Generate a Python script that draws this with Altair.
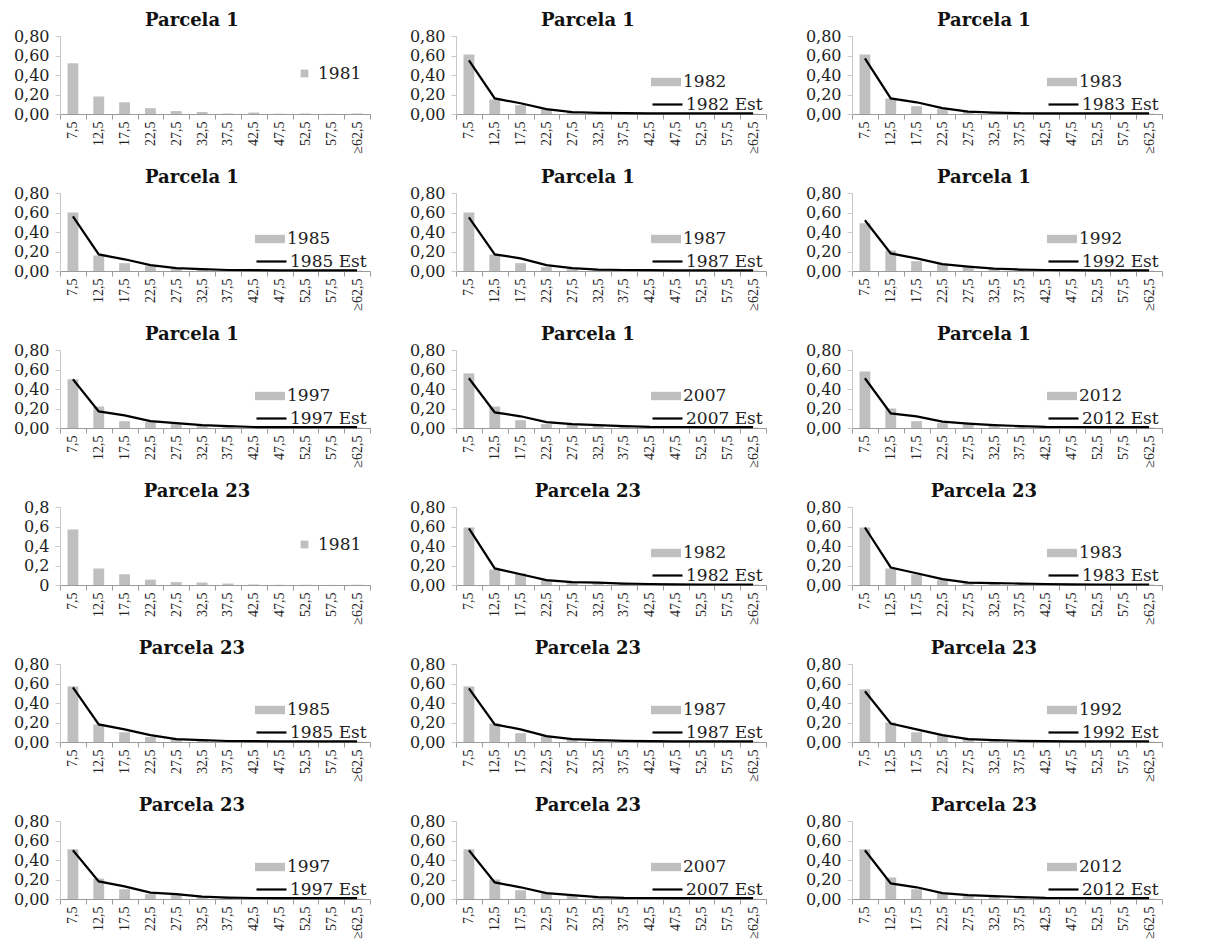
import altair as alt
import pandas as pd

classes = ["7,5", "12,5", "17,5", "22,5", "27,5", "32,5", "37,5", "42,5", "47,5", "52,5", "57,5", "≥62,5"]

# Parcela 1
p1_1981_obs = [0.52, 0.18, 0.12, 0.06, 0.03, 0.02, 0.005, 0.015, 0.003, 0.005, 0.002, 0.005]
p1_1982_obs = [0.61, 0.15, 0.09, 0.05, 0.02, 0.012, 0.008, 0.006, 0.004, 0.004, 0.003, 0.004]
p1_1982_est = [0.55, 0.16, 0.11, 0.05, 0.02, 0.012, 0.008, 0.007, 0.006, 0.006, 0.006, 0.006]
p1_1983_obs = [0.61, 0.16, 0.08, 0.05, 0.02, 0.01, 0.006, 0.005, 0.004, 0.003, 0.003, 0.004]
p1_1983_est = [0.57, 0.16, 0.12, 0.06, 0.025, 0.015, 0.008, 0.007, 0.006, 0.006, 0.006, 0.006]
p1_1985_obs = [0.60, 0.16, 0.08, 0.05, 0.03, 0.02, 0.01, 0.006, 0.004, 0.004, 0.003, 0.004]
p1_1985_est = [0.56, 0.17, 0.12, 0.06, 0.03, 0.02, 0.01, 0.008, 0.007, 0.007, 0.007, 0.007]
p1_1987_obs = [0.60, 0.17, 0.08, 0.04, 0.02, 0.01, 0.006, 0.005, 0.004, 0.003, 0.003, 0.004]
p1_1987_est = [0.55, 0.17, 0.13, 0.06, 0.03, 0.015, 0.01, 0.008, 0.007, 0.007, 0.007, 0.007]
p1_1992_obs = [0.49, 0.21, 0.10, 0.07, 0.05, 0.03, 0.02, 0.01, 0.006, 0.005, 0.004, 0.004]
p1_1992_est = [0.52, 0.18, 0.13, 0.07, 0.045, 0.025, 0.015, 0.01, 0.008, 0.007, 0.007, 0.007]
p1_1997_obs = [0.50, 0.22, 0.07, 0.06, 0.05, 0.03, 0.02, 0.01, 0.006, 0.005, 0.004, 0.004]
p1_1997_est = [0.50, 0.17, 0.13, 0.07, 0.05, 0.03, 0.02, 0.01, 0.008, 0.008, 0.008, 0.008]
p1_2007_obs = [0.56, 0.22, 0.08, 0.04, 0.04, 0.02, 0.01, 0.008, 0.005, 0.004, 0.003, 0.004]
p1_2007_est = [0.51, 0.16, 0.12, 0.06, 0.04, 0.03, 0.02, 0.012, 0.01, 0.009, 0.009, 0.009]
p1_2012_obs = [0.58, 0.20, 0.07, 0.05, 0.04, 0.02, 0.01, 0.008, 0.005, 0.004, 0.003, 0.004]
p1_2012_est = [0.51, 0.15, 0.12, 0.065, 0.045, 0.03, 0.02, 0.012, 0.01, 0.009, 0.009, 0.009]

# Parcela 23
p23_1981_obs = [0.57, 0.17, 0.11, 0.055, 0.03, 0.025, 0.015, 0.005, 0.002, 0.002, 0.001, 0.003]
p23_1982_obs = [0.59, 0.16, 0.12, 0.05, 0.025, 0.02, 0.015, 0.01, 0.005, 0.004, 0.003, 0.004]
p23_1982_est = [0.58, 0.17, 0.11, 0.05, 0.03, 0.025, 0.015, 0.01, 0.006, 0.005, 0.005, 0.005]
p23_1983_obs = [0.59, 0.17, 0.11, 0.05, 0.025, 0.02, 0.015, 0.01, 0.005, 0.004, 0.003, 0.004]
p23_1983_est = [0.59, 0.18, 0.12, 0.06, 0.025, 0.02, 0.015, 0.01, 0.006, 0.005, 0.005, 0.005]
p23_1985_obs = [0.57, 0.18, 0.10, 0.05, 0.03, 0.02, 0.01, 0.006, 0.004, 0.004, 0.003, 0.004]
p23_1985_est = [0.56, 0.18, 0.13, 0.07, 0.03, 0.02, 0.01, 0.008, 0.006, 0.006, 0.006, 0.006]
p23_1987_obs = [0.57, 0.19, 0.09, 0.06, 0.04, 0.02, 0.01, 0.006, 0.004, 0.004, 0.003, 0.004]
p23_1987_est = [0.55, 0.18, 0.13, 0.06, 0.03, 0.02, 0.012, 0.008, 0.007, 0.007, 0.007, 0.007]
p23_1992_obs = [0.54, 0.20, 0.10, 0.07, 0.04, 0.02, 0.01, 0.008, 0.005, 0.004, 0.003, 0.004]
p23_1992_est = [0.52, 0.19, 0.13, 0.07, 0.03, 0.02, 0.012, 0.009, 0.007, 0.007, 0.007, 0.007]
p23_1997_obs = [0.51, 0.21, 0.10, 0.05, 0.05, 0.02, 0.01, 0.008, 0.005, 0.004, 0.003, 0.004]
p23_1997_est = [0.50, 0.18, 0.13, 0.065, 0.05, 0.025, 0.015, 0.01, 0.01, 0.008, 0.008, 0.008]
p23_2007_obs = [0.51, 0.20, 0.09, 0.06, 0.04, 0.02, 0.01, 0.008, 0.005, 0.004, 0.003, 0.004]
p23_2007_est = [0.50, 0.17, 0.12, 0.06, 0.04, 0.02, 0.012, 0.01, 0.008, 0.008, 0.008, 0.008]
p23_2012_obs = [0.51, 0.22, 0.10, 0.06, 0.04, 0.03, 0.02, 0.01, 0.006, 0.005, 0.004, 0.004]
p23_2012_est = [0.50, 0.16, 0.12, 0.06, 0.04, 0.03, 0.02, 0.012, 0.01, 0.009, 0.009, 0.009]

panels_spec = [
    ("Parcela 1", "1981", p1_1981_obs, None),
    ("Parcela 1", "1982", p1_1982_obs, p1_1982_est),
    ("Parcela 1", "1983", p1_1983_obs, p1_1983_est),
    ("Parcela 1", "1985", p1_1985_obs, p1_1985_est),
    ("Parcela 1", "1987", p1_1987_obs, p1_1987_est),
    ("Parcela 1", "1992", p1_1992_obs, p1_1992_est),
    ("Parcela 1", "1997", p1_1997_obs, p1_1997_est),
    ("Parcela 1", "2007", p1_2007_obs, p1_2007_est),
    ("Parcela 1", "2012", p1_2012_obs, p1_2012_est),
    ("Parcela 23", "1981", p23_1981_obs, None),
    ("Parcela 23", "1982", p23_1982_obs, p23_1982_est),
    ("Parcela 23", "1983", p23_1983_obs, p23_1983_est),
    ("Parcela 23", "1985", p23_1985_obs, p23_1985_est),
    ("Parcela 23", "1987", p23_1987_obs, p23_1987_est),
    ("Parcela 23", "1992", p23_1992_obs, p23_1992_est),
    ("Parcela 23", "1997", p23_1997_obs, p23_1997_est),
    ("Parcela 23", "2007", p23_2007_obs, p23_2007_est),
    ("Parcela 23", "2012", p23_2012_obs, p23_2012_est),
]

W, H = 310, 78
SERIF = "DejaVu Serif"
TXT = "#222222"
BAR = "#BFBFBF"


def panel(title, year, obs, est, short_fmt):
    df = pd.DataFrame({
        "cls": classes,
        "obs": obs,
        "obs_lab": [year] * len(classes),
        "est": est if est is not None else [0.0] * len(classes),
        "est_lab": [year + " Est"] * len(classes),
    })
    if short_fmt:
        lexpr = "datum.value == 0 ? '0' : replace(format(datum.value, '.1f'), '.', ',')"
    else:
        lexpr = "replace(format(datum.value, '.2f'), '.', ',')"
    x = alt.X("cls:N", sort=classes,
              scale=alt.Scale(paddingInner=0, paddingOuter=0),
              axis=alt.Axis(title=None, labelAngle=270, tickBand="extent",
                            labelFont="Liberation Serif", labelFontSize=14,
                            labelColor=TXT, domainColor="#9a9a9a",
                            tickColor="#9a9a9a", tickSize=5, labelPadding=2))
    yaxis = alt.Axis(title=None, values=[0, 0.2, 0.4, 0.6, 0.8],
                     labelExpr=lexpr, labelFont=SERIF, labelFontSize=16,
                     labelColor=TXT, domainColor="#c8c8c8",
                     tickColor="#c8c8c8", tickSize=5, labelPadding=6)
    yscale = alt.Scale(domain=[0, 0.8])
    base = alt.Chart(df)
    if est is None:
        fill_leg = alt.Legend(title=None, orient="none", legendX=236, legendY=29,
                              symbolType="square", symbolSize=60,
                              labelFont=SERIF, labelFontSize=17, labelColor=TXT,
                              padding=0, labelOffset=5)
    else:
        fill_leg = alt.Legend(title=None, orient="none", legendX=195, legendY=31,
                              symbolType="M-1,-0.28H1V0.28H-1Z", symbolSize=900,
                              symbolStrokeWidth=0,
                              labelFont=SERIF, labelFontSize=17, labelColor=TXT,
                              padding=0, labelOffset=2)
    bars = base.mark_bar(width=alt.RelativeBandSize(0.42)).encode(
        x=x, y=alt.Y("obs:Q", scale=yscale, axis=yaxis),
        fill=alt.Fill("obs_lab:N", scale=alt.Scale(domain=[year], range=[BAR]),
                      legend=fill_leg),
    )
    layers = [bars]
    if est is not None:
        line = base.mark_line(strokeWidth=2.2).encode(
            x=x,
            y=alt.Y("est:Q", scale=yscale, axis=yaxis),
            stroke=alt.Stroke("est_lab:N",
                              scale=alt.Scale(domain=[year + " Est"], range=["black"]),
                              legend=alt.Legend(title=None, orient="none",
                                                legendX=195, legendY=52,
                                                symbolType="stroke", symbolSize=900,
                                                symbolStrokeWidth=2.2,
                                                labelFont=SERIF, labelFontSize=17,
                                                labelColor=TXT, padding=0,
                                                labelOffset=2)),
        )
        layers.append(line)
    return alt.layer(*layers).properties(
        width=W, height=H,
        title=alt.TitleParams(title, font=SERIF, fontSize=18, fontWeight="bold",
                              color="#111111", anchor="middle", frame="bounds",
                              offset=-2),
    )


panels = []
for i, (t, yr, o, e) in enumerate(panels_spec):
    short = (t == "Parcela 23" and yr == "1981")
    panels.append(panel(t, yr, o, e, short))

IND = dict(x="independent", y="independent", fill="independent", stroke="independent")

rows = []
for r in range(6):
    row = alt.hconcat(*panels[r * 3:(r + 1) * 3], spacing=38).resolve_scale(
        **IND).resolve_axis(x="independent", y="independent").resolve_legend(
        fill="independent", stroke="independent")
    rows.append(row)

chart = alt.vconcat(*rows, spacing=15).resolve_scale(**IND).resolve_axis(
    x="independent", y="independent").resolve_legend(
    fill="independent", stroke="independent").properties(
    padding={"left": 5, "top": 4, "right": 5, "bottom": 0}
).configure_view(stroke=None).configure_axis(grid=False)

chart.save("out.html", embed_options={"renderer": "svg", "actions": False})
